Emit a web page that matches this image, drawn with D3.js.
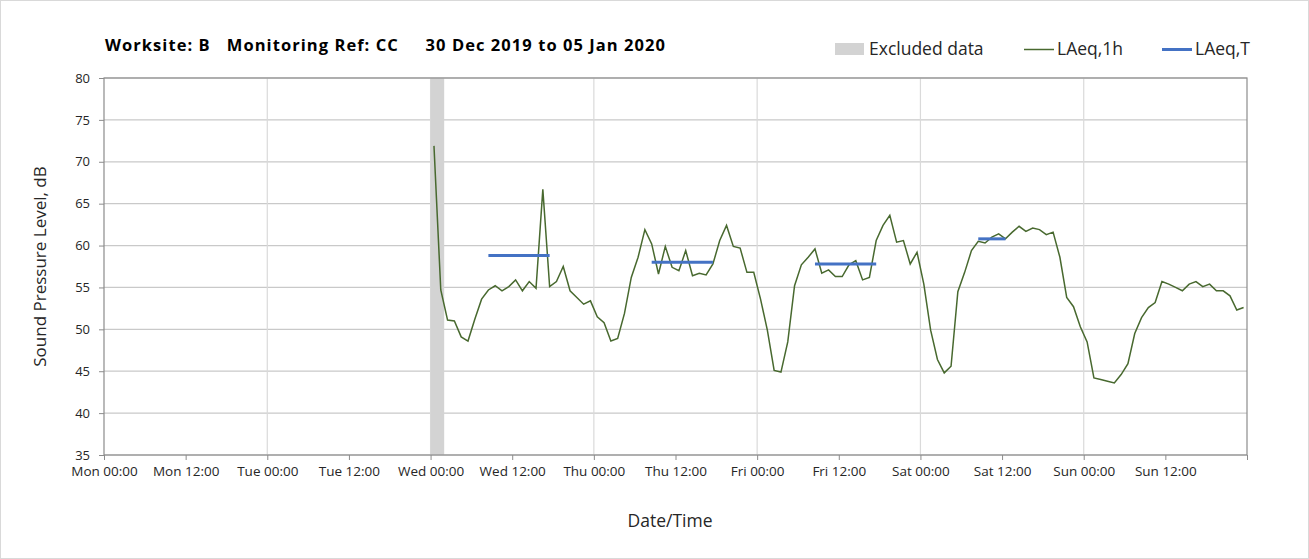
<!DOCTYPE html>
<html>
<head>
<meta charset="utf-8">
<script src="https://cdn.jsdelivr.net/npm/d3@7"></script>
<style>
  body { margin: 0; background: #fff; }
  svg { display: block; font-family: "Open Sans", Lato, sans-serif; }
</style>
</head>
<body>
<svg id="chart"></svg>
<script>
// Hourly LAeq,1h values, first reading centred on Wed 01 Jan 2020 00:30
const levelStart = new Date(2020, 0, 1, 0, 30);
const levels = [
  71.9, 54.7, 51.1, 51.0, 49.1, 48.6, 51.2, 53.6, 54.7, 55.2, 54.6, 55.1,
  55.9, 54.6, 55.7, 54.9, 66.7, 55.1, 55.7, 57.5, 54.6, 53.8, 53.0, 53.4,
  51.5, 50.8, 48.6, 48.9, 51.9, 56.2, 58.6, 61.9, 60.2, 56.6, 59.9, 57.4,
  57.0, 59.4, 56.4, 56.7, 56.5, 57.8, 60.6, 62.4, 59.9, 59.7, 56.8, 56.8,
  53.6, 49.9, 45.1, 44.9, 48.5, 55.2, 57.7, 58.6, 59.6, 56.7, 57.1, 56.3,
  56.3, 57.7, 58.2, 55.9, 56.2, 60.6, 62.4, 63.6, 60.4, 60.6, 57.8, 59.2,
  55.4, 49.9, 46.4, 44.8, 45.6, 54.5, 56.8, 59.4, 60.5, 60.3, 61.0, 61.4,
  60.8, 61.6, 62.3, 61.7, 62.1, 61.9, 61.3, 61.6, 58.6, 53.8, 52.7, 50.3,
  48.5, 44.2, 44.0, 43.8, 43.6, 44.6, 45.9, 49.5, 51.4, 52.6, 53.2, 55.7,
  55.4, 55.0, 54.6, 55.4, 55.7, 55.1, 55.4, 54.6, 54.6, 54.0, 52.3, 52.6
];

// LAeq,T periods
const periodStarts = [
  new Date(2020, 0, 1, 8, 30), new Date(2020, 0, 2, 8, 30),
  new Date(2020, 0, 3, 8, 30), new Date(2020, 0, 4, 8, 30)
];
const periodEnds = [
  new Date(2020, 0, 1, 17, 30), new Date(2020, 0, 2, 17, 30),
  new Date(2020, 0, 3, 17, 30), new Date(2020, 0, 4, 12, 30)
];
const periodLevels = [58.8, 58.0, 57.8, 60.8];

// Excluded data window
const excludedStart = new Date(2020, 0, 1, 0, 0);
const excludedEnd = new Date(2020, 0, 1, 2, 0);

const weekStart = new Date(2019, 11, 30, 0, 0);
const weekEnd = new Date(2020, 0, 6, 0, 0);
const yTicks = [35, 40, 45, 50, 55, 60, 65, 70, 75, 80];

const title = "Worksite: B\u00a0\u00a0\u00a0Monitoring Ref: CC\u00a0\u00a0\u00a0\u00a0\u00a030 Dec 2019 to 05 Jan 2020";

const width = 1309, height = 559;
const margin = {top: 78, right: 62, bottom: 104, left: 104};

const svg = d3.select('#chart').attr('width', width).attr('height', height);

svg.append('rect')
  .attr('x', 0.5).attr('y', 0.5)
  .attr('width', width - 1).attr('height', height - 1)
  .attr('fill', '#fff').attr('stroke', '#d9d9d9');

const x = d3.scaleTime().domain([weekStart, weekEnd]).range([margin.left, width - margin.right]);
const y = d3.scaleLinear().domain([35, 80]).range([height - margin.bottom, margin.top]);

// horizontal grid
svg.append('g').selectAll('line')
  .data(yTicks)
  .join('line')
  .attr('x1', x.range()[0]).attr('x2', x.range()[1])
  .attr('y1', d => y(d)).attr('y2', d => y(d))
  .attr('stroke', '#c9c9c9').attr('stroke-width', 1.2);

// vertical grid (daily)
svg.append('g').selectAll('line')
  .data(d3.timeDay.range(d3.timeDay.offset(weekStart, 1), weekEnd))
  .join('line')
  .attr('x1', d => x(d)).attr('x2', d => x(d))
  .attr('y1', y(35)).attr('y2', y(80))
  .attr('stroke', '#dadada').attr('stroke-width', 1.2);

// excluded band
svg.append('rect')
  .attr('x', x(excludedStart)).attr('y', y(80))
  .attr('width', x(excludedEnd) - x(excludedStart))
  .attr('height', y(35) - y(80))
  .attr('fill', '#d3d3d3');

// plot frame
svg.append('rect')
  .attr('x', x.range()[0]).attr('y', y(80))
  .attr('width', x.range()[1] - x.range()[0])
  .attr('height', y(35) - y(80))
  .attr('fill', 'none').attr('stroke', '#8c8c8c').attr('stroke-width', 1.2);

// axes
const xTickVals = d3.timeHour.every(12).range(weekStart, d3.timeHour.offset(weekEnd, 1));
const xAxis = svg.append('g')
  .attr('transform', `translate(0,${y(35)})`)
  .call(d3.axisBottom(x)
    .tickValues(xTickVals)
    .tickSize(5)
    .tickPadding(6)
    .tickFormat(d => +d === +weekEnd ? '' : d3.timeFormat('%a %H:%M')(d)));
xAxis.attr('font-family', null);
xAxis.select('.domain').remove();
xAxis.selectAll('line').attr('stroke', '#8c8c8c');
xAxis.selectAll('text').attr('font-size', 13.5).attr('fill', '#262626');

const yAxis = svg.append('g')
  .attr('transform', `translate(${x.range()[0]},0)`)
  .call(d3.axisLeft(y).tickValues(yTicks).tickSize(5).tickPadding(9));
yAxis.attr('font-family', null);
yAxis.select('.domain').remove();
yAxis.selectAll('line').attr('stroke', '#8c8c8c');
yAxis.selectAll('text').attr('font-size', 13).attr('fill', '#262626');

// LAeq,1h line
const line = d3.line()
  .x((d, i) => x(d3.timeHour.offset(levelStart, i)))
  .y(d => y(d));

svg.append('path')
  .datum(levels)
  .attr('fill', 'none')
  .attr('stroke', '#48692f')
  .attr('stroke-width', 1.5)
  .attr('d', line);

// LAeq,T bars
svg.append('g').selectAll('line')
  .data(periodLevels)
  .join('line')
  .attr('x1', (d, i) => x(periodStarts[i]))
  .attr('x2', (d, i) => x(periodEnds[i]))
  .attr('y1', d => y(d)).attr('y2', d => y(d))
  .attr('stroke', '#4472c4').attr('stroke-width', 3);

// titles
svg.append('text')
  .attr('x', 105).attr('y', 51)
  .attr('font-size', 16.5).attr('font-weight', 'bold').attr('fill', '#000')
  .attr('textLength', 560).attr('lengthAdjust', 'spacing')
  .text(title);

svg.append('text')
  .attr('transform', `translate(46,${(y(35) + y(80)) / 2}) rotate(-90)`)
  .attr('text-anchor', 'middle')
  .attr('font-size', 17).attr('fill', '#262626')
  .text('Sound Pressure Level, dB');

svg.append('text')
  .attr('x', 670).attr('y', 527)
  .attr('text-anchor', 'middle')
  .attr('font-size', 17.5).attr('fill', '#262626')
  .text('Date/Time');

// legend
const legend = svg.append('g').attr('font-size', 17.5).attr('fill', '#262626');
legend.append('rect').attr('x', 835).attr('y', 43).attr('width', 29).attr('height', 12).attr('fill', '#d3d3d3');
legend.append('text').attr('x', 869).attr('y', 55).text('Excluded data');
legend.append('line').attr('x1', 1024).attr('x2', 1054).attr('y1', 49.5).attr('y2', 49.5)
  .attr('stroke', '#48692f').attr('stroke-width', 1.5);
legend.append('text').attr('x', 1057).attr('y', 55).text('LAeq,1h');
legend.append('line').attr('x1', 1162).attr('x2', 1192).attr('y1', 49.5).attr('y2', 49.5)
  .attr('stroke', '#4472c4').attr('stroke-width', 3);
legend.append('text').attr('x', 1195).attr('y', 55).text('LAeq,T');
</script>
</body>
</html>
